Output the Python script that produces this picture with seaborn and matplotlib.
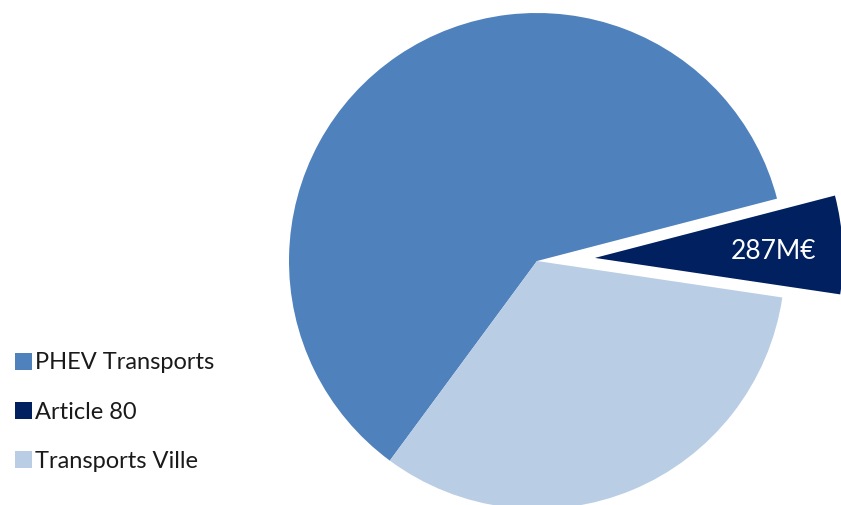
import matplotlib
matplotlib.use("Agg")
import matplotlib.pyplot as plt
import seaborn as sns

categories = ["PHEV Transports", "Article 80", "Transports Ville"]
values = [2730, 287, 1470]  # M€
colors = ["#4F81BD", "#002060", "#B9CDE5"]
explode = [0, 58, 0]  # pixel offset of the detached slice

sns.set_theme(style="white")
plt.rcParams["font.family"] = ["Lato", "DejaVu Sans"]

W, H = 841, 505
fig = plt.figure(figsize=(W / 100, H / 100), dpi=100)
ax = fig.add_axes([0, 0, 1, 1])

total = sum(values)


def fmt(p):
    v = p * total / 100
    return f"{v:.0f}M€" if abs(v - values[1]) < 1 else ""


wedges, texts, autotexts = ax.pie(
    values,
    colors=sns.color_palette(colors),
    explode=explode,
    startangle=233.6,
    counterclock=False,
    center=(537, 244),
    radius=248,
    autopct=fmt,
    pctdistance=0.72,
    textprops=dict(color="white", fontsize=19),
    wedgeprops=dict(linewidth=0, edgecolor="none"),
    frame=True,
)
for t in autotexts:
    px, py = t.get_position()
    t.set_position((px, py - 3))
ax.set_xlim(0, W)
ax.set_ylim(0, H)
ax.set_aspect("equal")
ax.axis("off")

leg = ax.legend(
    wedges,
    categories,
    loc="upper left",
    bbox_to_anchor=(6 / W, 1 - 343 / H),
    bbox_transform=fig.transFigure,
    frameon=False,
    fontsize=17,
    handlelength=0.72,
    handleheight=0.72,
    handletextpad=0.12,
    labelspacing=1.2,
    borderaxespad=0,
)
for t in leg.get_texts():
    t.set_color("#1a1a1a")

fig.savefig("out.png", dpi=100)
